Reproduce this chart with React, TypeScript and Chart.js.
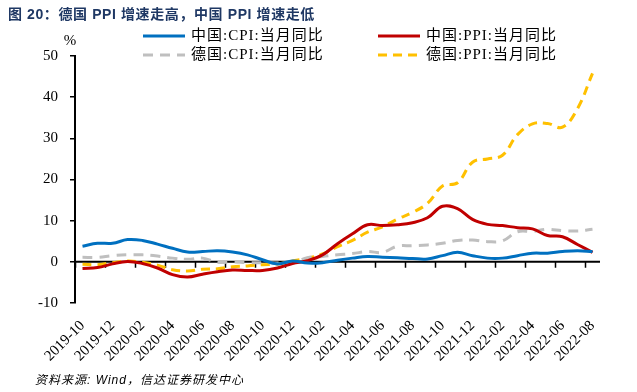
import React, { useEffect, useRef } from 'react';
import { Chart, registerables } from 'chart.js';

Chart.register(...registerables);

const months = [
  '2019-10', '2019-11', '2019-12',
  '2020-01', '2020-02', '2020-03', '2020-04', '2020-05', '2020-06',
  '2020-07', '2020-08', '2020-09', '2020-10', '2020-11', '2020-12',
  '2021-01', '2021-02', '2021-03', '2021-04', '2021-05', '2021-06',
  '2021-07', '2021-08', '2021-09', '2021-10', '2021-11', '2021-12',
  '2022-01', '2022-02', '2022-03', '2022-04', '2022-05', '2022-06',
  '2022-07', '2022-08',
];

const chinaCPI = [
  3.8, 4.5, 4.5,
  5.4, 5.2, 4.3, 3.3, 2.4, 2.5, 2.7, 2.4, 1.7, 0.5, -0.5, 0.2,
  -0.3, -0.2, 0.4, 0.9, 1.3, 1.1, 1.0, 0.8, 0.7, 1.5, 2.3, 1.5,
  0.9, 0.9, 1.5, 2.1, 2.1, 2.5, 2.7, 2.5,
];

const chinaPPI = [
  -1.6, -1.4, -0.5,
  0.1, -0.4, -1.5, -3.1, -3.7, -3.0, -2.4, -2.0, -2.1, -2.1, -1.5, -0.4,
  0.3, 1.7, 4.4, 6.8, 9.0, 8.8, 9.0, 9.5, 10.7, 13.5, 12.9, 10.3,
  9.1, 8.8, 8.3, 8.0, 6.4, 6.1, 4.2, 2.3,
];

const germanyCPI = [
  1.1, 1.1, 1.5,
  1.7, 1.7, 1.4, 0.9, 0.6, 0.9, -0.1, 0.0, -0.2, -0.2, -0.3, -0.3,
  1.0, 1.3, 1.7, 2.0, 2.5, 2.3, 3.8, 3.9, 4.1, 4.5, 5.2, 5.3,
  4.9, 5.1, 7.3, 7.4, 7.9, 7.6, 7.5, 7.9,
];

const germanyPPI = [
  -0.6, -0.7, -0.2,
  0.2, -0.1, -0.8, -1.9, -2.2, -1.8, -1.7, -1.2, -1.0, -0.7, -0.5, 0.2,
  0.9, 1.9, 3.7, 5.2, 7.2, 8.5, 10.4, 12.0, 14.2, 18.4, 19.2, 24.2,
  25.0, 25.9, 30.9, 33.5, 33.6, 32.7, 37.2, 45.8,
];

const yTicks = [-10, 0, 10, 20, 30, 40, 50];

const titleText = '图 20：德国 PPI 增速走高，中国 PPI 增速走低';
const sourceText = '资料来源: Wind，信达证券研发中心';
const unitText = '%';

const SERIF = '"Liberation Serif", "Noto Sans CJK SC", serif';
const SANS = '"Liberation Sans", "Noto Sans CJK SC", sans-serif';

const decorPlugin = {
  id: 'decor',
  beforeDatasetsDraw(chart: any) {
    const { ctx, scales } = chart;
    const x = scales.x;
    const y = scales.y;
    const y0 = y.getPixelForValue(0);
    ctx.save();
    ctx.strokeStyle = '#000';
    ctx.lineWidth = 2;
    ctx.beginPath();
    ctx.moveTo(x.left, y0);
    ctx.lineTo(x.right, y0);
    ctx.stroke();
    const n = months.length;
    const step = x.width / n;
    ctx.lineWidth = 1.5;
    ctx.beginPath();
    for (let i = 0; i < n; i += 2) {
      const px = Math.round(x.left + step * i) + 0.5;
      ctx.moveTo(px, y0);
      ctx.lineTo(px, y0 + 6);
    }
    ctx.stroke();
    ctx.restore();
  },
  afterDraw(chart: any) {
    const { ctx } = chart;
    ctx.save();
    // title
    ctx.fillStyle = '#1F3864';
    ctx.font = 'bold 14px ' + SANS;
    ctx.textBaseline = 'middle';
    ctx.textAlign = 'left';
    (ctx as any).letterSpacing = '0.6px';
    ctx.fillText(titleText, 8, 15);
    // unit
    (ctx as any).letterSpacing = '0px';
    ctx.fillStyle = '#000';
    ctx.font = '15px ' + SERIF;
    ctx.textAlign = 'center';
    ctx.fillText(unitText, 70, 41);
    // legend
    const ds = chart.data.datasets;
    const cols = [143, 378];
    const rows = [36, 55];
    ds.forEach((d: any, i: number) => {
      const cx = cols[i % 2];
      const cy = rows[Math.floor(i / 2)];
      ctx.strokeStyle = d.borderColor;
      ctx.lineWidth = 3;
      ctx.setLineDash(d.borderDash || []);
      ctx.beginPath();
      ctx.moveTo(cx, cy);
      ctx.lineTo(cx + 42, cy);
      ctx.stroke();
      ctx.setLineDash([]);
      ctx.fillStyle = '#000';
      ctx.font = '15px ' + SERIF;
      ctx.textAlign = 'left';
      ctx.textBaseline = 'middle';
      (ctx as any).letterSpacing = '1px';
      ctx.fillText(d.label, cx + 48, cy);
      (ctx as any).letterSpacing = '0px';
    });
    // source
    ctx.fillStyle = '#000';
    ctx.font = 'italic 12px ' + SANS;
    ctx.textAlign = 'left';
    ctx.textBaseline = 'middle';
    (ctx as any).letterSpacing = '1px';
    ctx.fillText(sourceText, 35, 381);
    (ctx as any).letterSpacing = '0px';
    ctx.restore();
  },
};

export default function App() {
  const ref = useRef<HTMLCanvasElement>(null);

  useEffect(() => {
    document.body.style.margin = '0';
    const canvas = ref.current;
    if (!canvas) return;
    const chart = new Chart(canvas, {
      type: 'line',
      data: {
        labels: months,
        datasets: [
          {
            label: '中国:CPI:当月同比',
            data: chinaCPI,
            borderColor: '#0070C0',
            borderWidth: 3,
            pointRadius: 0,
            tension: 0.4,
          },
          {
            label: '中国:PPI:当月同比',
            data: chinaPPI,
            borderColor: '#C00000',
            borderWidth: 3,
            pointRadius: 0,
            tension: 0.4,
          },
          {
            label: '德国:CPI:当月同比',
            data: germanyCPI,
            borderColor: '#BFBFBF',
            borderWidth: 3,
            borderDash: [10, 7],
            pointRadius: 0,
            tension: 0.4,
          },
          {
            label: '德国:PPI:当月同比',
            data: germanyPPI,
            borderColor: '#FFC000',
            borderWidth: 3,
            borderDash: [9, 6],
            pointRadius: 0,
            tension: 0.4,
          },
        ],
      },
      options: {
        responsive: false,
        animation: false,
        devicePixelRatio: 1,
        layout: { padding: { top: 56, left: 10, right: 37, bottom: 19 } },
        plugins: {
          legend: { display: false },
          title: { display: false },
          tooltip: { enabled: false },
        },
        scales: {
          x: {
            type: 'category',
            offset: true,
            grid: { display: false, drawTicks: false, tickLength: 0 },
            border: { display: false },
            ticks: {
              autoSkip: false,
              maxRotation: 45,
              minRotation: 45,
              padding: 14,
              color: '#000',
              font: { family: SERIF, size: 15 },
              callback: (_v: any, i: number) => (i % 2 === 0 ? months[i] : ''),
            },
            afterFit: (s: any) => {
              s.height = 70;
            },
          },
          y: {
            min: yTicks[0],
            max: yTicks[yTicks.length - 1],
            afterBuildTicks: (s: any) => {
              s.ticks = yTicks.map((v) => ({ value: v }));
            },
            grid: {
              drawOnChartArea: false,
              drawTicks: true,
              tickLength: 5,
              color: '#000',
              lineWidth: 1.5,
            },
            border: { display: true, color: '#000', width: 2 },
            ticks: {
              padding: 12,
              color: '#000',
              font: { family: SERIF, size: 15 },
            },
            afterFit: (s: any) => {
              s.width = 65;
            },
          },
        },
      },
      plugins: [decorPlugin],
    });
    return () => chart.destroy();
  }, []);

  return (
    <div style={{ width: 637, height: 392 }}>
      <canvas ref={ref} width={637} height={392} style={{ display: 'block' }} />
    </div>
  );
}
